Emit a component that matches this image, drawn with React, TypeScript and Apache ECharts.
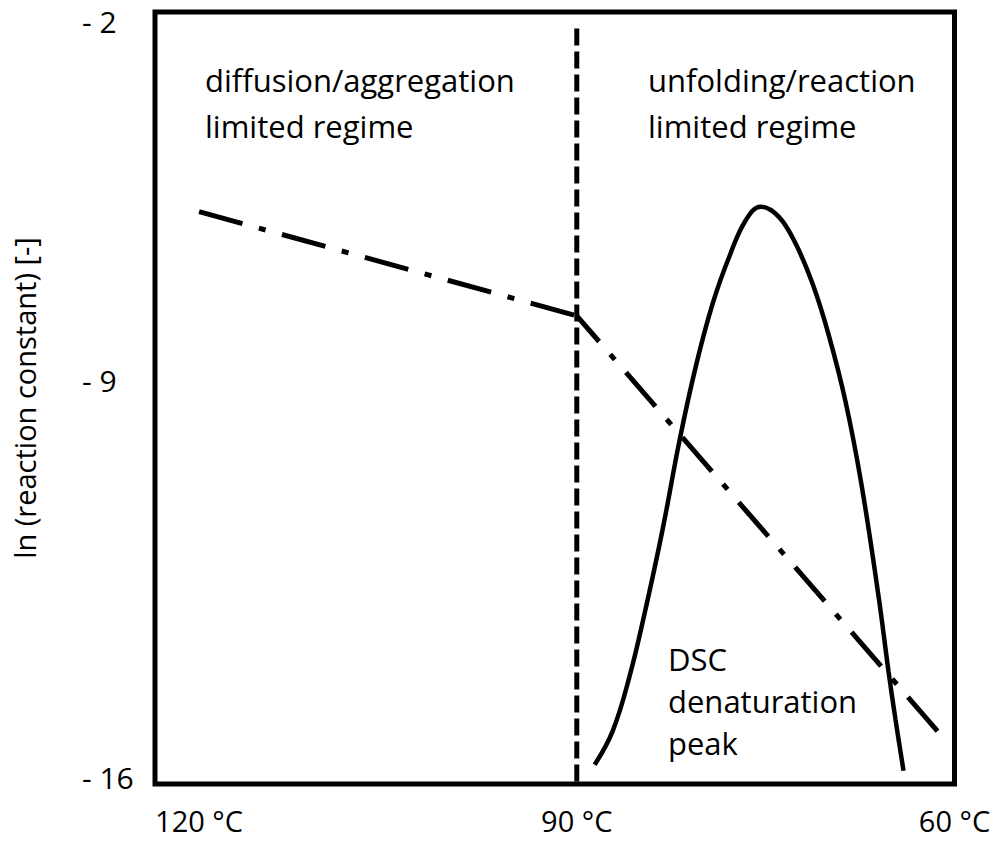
import React, { useEffect, useRef } from "react";
import * as echarts from "echarts";

// x axis: temperature (°C), shown decreasing left→right
const tempTicks = [120, 90, 60];
// y axis: ln(reaction constant)
const lnTicks = [-16, -9, -2];

// Arrhenius-type rate line (dash-dot), two regimes
const aggTemps = [120, 90];
const aggLnK = [-5.62, -7.51];
const reactTemps = [90, 61.35];
const reactLnK = [-7.51, -15.04];

// regime divider (dashed)
const transitionTemp = 90;
const dividerLn = [-2.3, -16];

// DSC denaturation peak (solid)
const dscTemps = [88.58, 87.15, 85.8, 84.53, 83.18, 81.83, 80.56, 79.21, 77.86, 76.59, 75.4, 73.97, 72.62, 71.27, 70.0, 68.65, 67.38, 66.03, 65.24, 64.68, 64.05];
const dscLn = [-15.65, -15.04, -14.04, -12.82, -11.38, -9.76, -8.44, -7.29, -6.42, -5.78, -5.53, -5.71, -6.2, -6.93, -7.85, -9.07, -10.58, -12.6, -13.96, -14.84, -15.76];

const annotations = [
  { text: "diffusion/aggregation\nlimited regime", left: 205, top: 57, lineHeight: 46 },
  { text: "unfolding/reaction\nlimited regime", left: 648, top: 57, lineHeight: 46 },
  { text: "DSC\ndenaturation\npeak", left: 668, top: 638, lineHeight: 42 },
];

const FONT = "'Open Sans', sans-serif";

const zip = (xs: number[], ys: number[]) => xs.map((x, i) => [x, ys[i]]);

export default function App() {
  const ref = useRef<HTMLDivElement>(null);
  useEffect(() => {
    if (!ref.current) return;
    const chart = echarts.init(ref.current, undefined, { renderer: "svg" });
    const lbl = { fontFamily: FONT, fontSize: 30, color: "#000" };
    chart.setOption({
      animation: false,
      backgroundColor: "#fff",
      grid: {
        left: 155,
        right: 45.5,
        top: 12,
        bottom: 59,
        show: true,
        borderColor: "#000",
        borderWidth: 5,
        backgroundColor: "transparent",
      },
      xAxis: {
        type: "value",
        min: 60,
        max: 123.5,
        interval: 30,
        inverse: true,
        axisLine: { show: false },
        axisTick: { show: false },
        splitLine: { show: false },
        axisLabel: {
          showMaxLabel: false,
          margin: 22,
          fontFamily: FONT,
          fontSize: 29,
          color: "#000",
          formatter: (v: number) => (tempTicks.includes(v) ? `${v} °C` : ""),
        },
      },
      yAxis: {
        type: "value",
        min: -16,
        max: -2,
        interval: 7,
        name: "ln (reaction constant) [-]",
        nameLocation: "middle",
        nameGap: 116,
        nameTextStyle: { fontFamily: FONT, fontSize: 29, color: "#000" },
        axisLine: { show: false },
        axisTick: { show: false },
        splitLine: { show: false },
        axisLabel: {
          align: "left",
          margin: 73,
          fontFamily: FONT,
          fontSize: 30,
          color: "#000",
          formatter: (v: number) => {
            if (!lnTicks.includes(v)) return "";
            const key = v === -2 ? "t" : v === -9 ? "m" : "b";
            return `{${key}|- ${Math.abs(v)}}`;
          },
          rich: {
            t: { ...lbl, padding: [18, 0, 0, 0] },
            m: { ...lbl, padding: [0, 0, 36, 0] },
            b: { ...lbl, padding: [0, 0, 14, 0] },
          },
        },
      },
      graphic: annotations.map((a) => ({
        type: "text",
        left: a.left,
        top: a.top,
        style: {
          text: a.text,
          fontFamily: FONT,
          fontSize: 31,
          lineHeight: a.lineHeight,
          fill: "#000",
        },
      })),
      series: [
        {
          type: "line",
          data: dividerLn.map((v) => [transitionTemp, v]),
          symbol: "none",
          lineStyle: { color: "#000", width: 5, type: [17, 6], cap: "butt" },
        },
        {
          type: "line",
          data: zip(aggTemps, aggLnK),
          symbol: "none",
          lineStyle: { color: "#000", width: 5, type: [45, 17, 7, 17], cap: "butt" },
        },
        {
          type: "line",
          data: zip(reactTemps, reactLnK),
          symbol: "none",
          lineStyle: { color: "#000", width: 5, type: [45, 17, 7, 17], dashOffset: 11, cap: "butt" },
        },
        {
          type: "line",
          data: zip(dscTemps, dscLn),
          symbol: "none",
          smooth: 0.4,
          lineStyle: { color: "#000", width: 4.5 },
        },
      ],
    });
    return () => chart.dispose();
  }, []);
  return (
    <div
      ref={ref}
      style={{ position: "fixed", left: 0, top: 0, width: 1000, height: 843, background: "#fff" }}
    />
  );
}
